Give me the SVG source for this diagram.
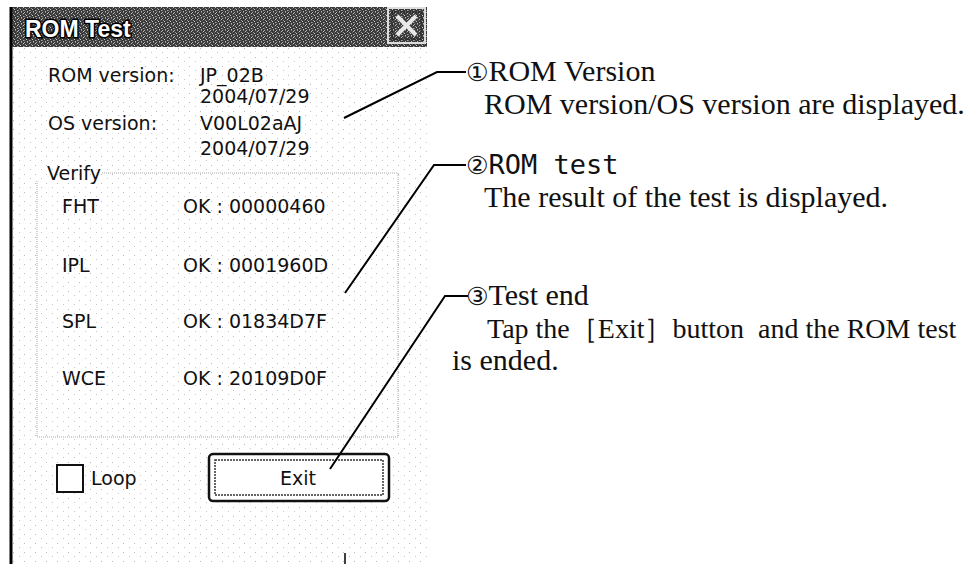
<svg xmlns="http://www.w3.org/2000/svg" width="974" height="564" viewBox="0 0 974 564">
<defs>
<pattern id="tb" width="6" height="6" patternUnits="userSpaceOnUse">
<rect width="6" height="6" fill="#3a3a3a"/>
<rect x="0" y="0" width="1" height="1" fill="#b5b5b5"/>
<rect x="3" y="0" width="1" height="1" fill="#888"/>
<rect x="5" y="1" width="1" height="1" fill="#c4c4c4"/>
<rect x="1" y="2" width="1" height="1" fill="#9a9a9a"/>
<rect x="4" y="2" width="1" height="1" fill="#666"/>
<rect x="2" y="3" width="1" height="1" fill="#d0d0d0"/>
<rect x="0" y="4" width="1" height="1" fill="#777"/>
<rect x="5" y="4" width="1" height="1" fill="#aaa"/>
<rect x="3" y="5" width="1" height="1" fill="#bcbcbc"/>
<rect x="1" y="5" width="1" height="1" fill="#555"/>
</pattern>
<pattern id="dots" width="11" height="9" patternUnits="userSpaceOnUse">
<rect x="2" y="3" width="1" height="1" fill="#b8b8b8"/>
<rect x="8" y="7" width="1" height="1" fill="#c8c8c8"/>
</pattern>
<style>
.ui{font-family:"DejaVu Sans",Verdana,sans-serif;font-size:19px;fill:#111}
.doc{font-family:"Liberation Serif","Times New Roman",serif;font-size:30px;fill:#111}
.doc.tap{font-size:28px}
.mono{font-family:"DejaVu Sans Mono","Liberation Mono",monospace;font-size:27px;fill:#111}
.num{font-family:"DejaVu Sans",sans-serif;font-size:25px}
.lead{fill:none;stroke:#000;stroke-width:2}
.grp{fill:none;stroke:#aaa;stroke-width:1;stroke-dasharray:1 1}
</style>
</defs>
<rect width="974" height="564" fill="#fff"/>
<g id="dialog">
<rect x="12" y="47" width="415" height="517" fill="url(#dots)"/>
<rect x="10" y="7" width="417" height="40" fill="url(#tb)"/>
<line x1="11" y1="7" x2="11" y2="564" stroke="#000" stroke-width="3"/>
<text x="25" y="37" font-family="Liberation Sans,Arial,sans-serif" font-weight="bold" font-size="23" fill="#fff" stroke="#000" stroke-width="3" paint-order="stroke">ROM Test</text>
<g id="close">
<rect x="388" y="8" width="37" height="35" fill="url(#tb)" stroke="#ddd" stroke-width="2"/>
<rect x="392" y="12" width="29" height="27" fill="none" stroke="#222" stroke-width="1"/>
<path d="M397 16 L416 35 M416 16 L397 35" stroke="#e8e8e8" stroke-width="4"/>
</g>
</g>
<g id="versions">
<text class="ui" x="48" y="82">ROM version:</text>
<text class="ui" x="200" y="82">JP_02B</text>
<text class="ui" x="200" y="103">2004/07/29</text>
<text class="ui" x="48" y="130">OS version:</text>
<text class="ui" x="200" y="130">V00L02aAJ</text>
<text class="ui" x="200" y="155">2004/07/29</text>
</g>
<g id="verify">
<path class="grp" d="M102 173 H398 V437 H37 V180"/>
<text class="ui" x="47" y="180">Verify</text>
<text class="ui" x="62" y="213">FHT</text>
<text class="ui" x="183" y="213">OK : 00000460</text>
<text class="ui" x="62" y="272">IPL</text>
<text class="ui" x="183" y="272">OK : 0001960D</text>
<text class="ui" x="62" y="328">SPL</text>
<text class="ui" x="183" y="328">OK : 01834D7F</text>
<text class="ui" x="62" y="385">WCE</text>
<text class="ui" x="183" y="385">OK : 20109D0F</text>
</g>
<g id="loop">
<rect x="57" y="465" width="26" height="27" fill="#fff" stroke="#111" stroke-width="2"/>
<text class="ui" x="91" y="485">Loop</text>
</g>
<g id="exit">
<rect x="209" y="454" width="180" height="47" rx="4" fill="#fff" stroke="#111" stroke-width="2.5"/>
<rect x="215" y="460" width="168" height="35" fill="none" stroke="#333" stroke-width="1.5" stroke-dasharray="2 1"/>
<text class="ui" x="298" y="485" text-anchor="middle">Exit</text>
</g>
<line x1="345" y1="553" x2="345" y2="564" stroke="#000" stroke-width="1.5"/>
<g id="connectors">
<polyline class="lead" points="344,118 437,72 466,72"/>
<polyline class="lead" points="345,293 434,165 466,165"/>
<polyline class="lead" points="330,469 445,296 468,296"/>
</g>
<g id="note1">
<text class="doc" x="466" y="81"><tspan class="num">①</tspan>ROM Version</text>
<text class="doc" x="484" y="114">ROM version/OS version are displayed.</text>
</g>
<g id="note2">
<text class="mono" x="466" y="174"><tspan class="num">②</tspan>ROM test</text>
<text class="doc" x="484" y="207">The result of the test is displayed.</text>
</g>
<g id="note3">
<text class="doc" x="466" y="305"><tspan class="num">③</tspan>Test end</text>
<text class="doc tap" x="487" y="338" xml:space="preserve">Tap the［Exit］button &#160;and the ROM test</text>
<text class="doc" x="452" y="370">is ended.</text>
</g>
</svg>
